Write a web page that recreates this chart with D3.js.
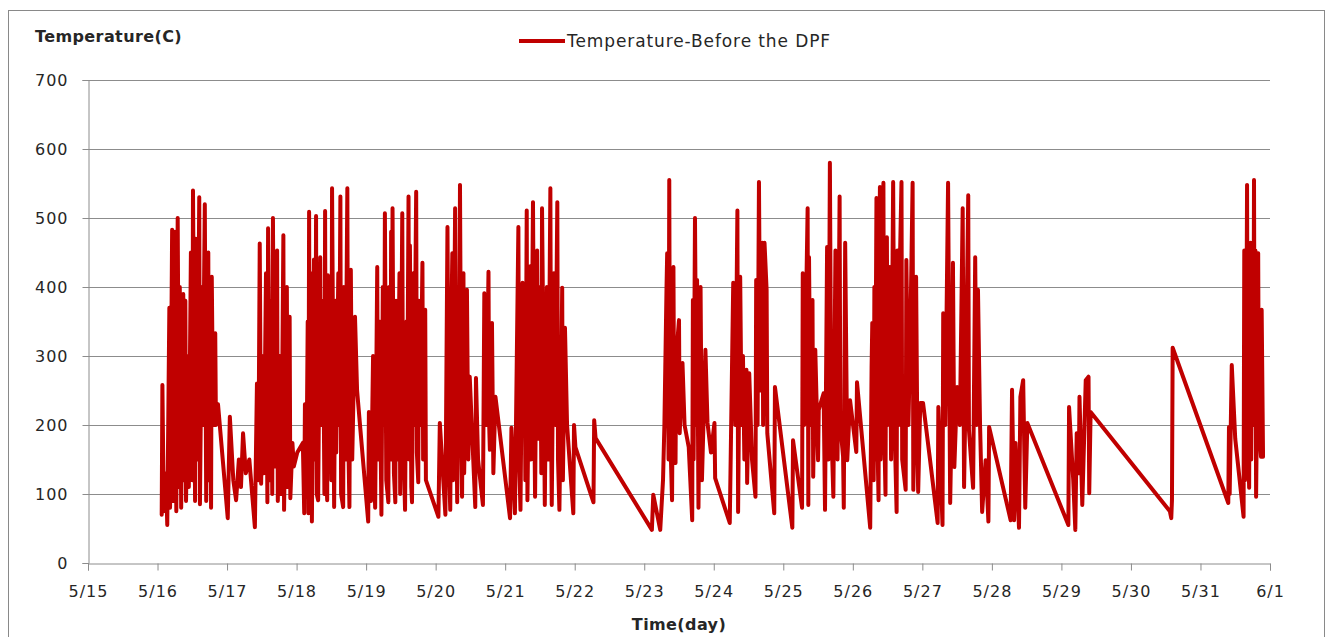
<!DOCTYPE html>
<html>
<head>
<meta charset="utf-8">
<script src="https://cdn.jsdelivr.net/npm/d3@7"></script>
<style>
  body { margin: 0; background: #fff; }
  text { font-family: "DejaVu Sans", Verdana, sans-serif; fill: #262626; }
</style>
</head>
<body>
<div class="chart"></div>
<script>
// readings: [day of May (fraction = time of day), temperature in C]
const readings = [
  [16.06,70],[16.07,258],[16.09,75],[16.12,130],[16.14,55],[16.17,370],[16.18,80],[16.21,483],[16.22,90],[16.25,480],
  [16.27,75],[16.29,500],[16.31,110],[16.32,400],[16.34,80],[16.37,390],[16.38,120],[16.40,380],[16.41,90],[16.44,300],
  [16.45,110],[16.48,450],[16.50,120],[16.51,540],[16.54,90],[16.55,470],[16.57,150],[16.60,530],[16.61,85],[16.64,400],
  [16.65,200],[16.68,520],[16.70,90],[16.73,450],[16.74,120],[16.76,400],[16.77,80],[16.78,415],[16.80,200],[16.83,333],
  [16.84,200],[16.87,230],[17.01,65],[17.04,212],[17.09,120],[17.13,91],[17.17,150],[17.20,110],[17.23,188],[17.27,130],
  [17.32,150],[17.40,52],
  [17.43,260],[17.45,120],[17.47,463],[17.49,115],[17.52,300],[17.53,130],[17.56,420],[17.58,88],[17.59,485],[17.62,120],
  [17.63,380],[17.65,100],[17.66,500],[17.68,140],[17.71,420],[17.72,453],[17.73,90],[17.76,300],[17.78,100],[17.81,475],
  [17.82,77],[17.86,400],[17.87,110],[17.90,357],[17.91,94],[17.94,174],[17.96,140],[18.01,160],[18.09,174],
  [18.11,72],[18.12,230],[18.14,100],[18.16,350],[18.17,72],[18.18,509],[18.19,130],[18.21,420],[18.22,60],[18.25,440],
  [18.27,150],[18.28,503],[18.29,100],[18.31,91],[18.34,443],[18.35,200],[18.38,380],[18.40,100],[18.41,510],[18.42,150],
  [18.44,91],[18.45,417],[18.47,220],[18.48,300],[18.50,120],[18.51,543],[18.54,81],[18.56,380],[18.57,160],[18.60,420],
  [18.61,200],[18.63,531],[18.64,100],[18.67,81],[18.68,400],[18.70,150],[18.73,543],[18.74,200],[18.76,81],[18.77,300],
  [18.78,425],[18.80,150],[18.81,200],[18.84,357],[18.87,250],[19.03,60],
  [19.04,219],[19.07,90],[19.10,300],[19.12,120],[19.13,80],[19.16,429],[19.17,150],[19.19,350],[19.22,70],[19.24,400],
  [19.26,200],[19.27,507],[19.29,120],[19.32,88],[19.33,400],[19.35,150],[19.36,480],[19.37,200],[19.38,514],[19.40,130],
  [19.42,88],[19.43,380],[19.45,150],[19.48,420],[19.49,100],[19.52,507],[19.53,200],[19.56,77],[19.58,350],[19.59,180],
  [19.61,531],[19.62,150],[19.63,460],[19.65,110],[19.66,88],[19.68,420],[19.69,200],[19.72,538],[19.73,160],[19.75,117],
  [19.76,380],[19.78,200],[19.81,435],[19.82,150],[19.85,367],[19.86,120],[20.04,67],[20.06,203],[20.14,70],
  [20.17,487],[20.19,150],[20.21,77],[20.23,380],[20.24,449],[20.25,120],[20.28,514],[20.30,200],[20.31,88],[20.32,400],
  [20.34,250],[20.35,548],[20.37,150],[20.38,96],[20.40,420],[20.41,130],[20.44,300],[20.45,396],[20.47,150],[20.49,270],
  [20.57,81],[20.58,268],[20.61,150],[20.68,84],[20.70,391],[20.73,200],[20.76,422],[20.77,200],[20.78,164],[20.81,348],
  [20.83,130],[20.86,241],[21.07,65],[21.09,196],[21.14,72],
  [21.19,487],[21.20,150],[21.22,77],[21.25,406],[21.26,200],[21.28,350],[21.29,120],[21.31,511],[21.32,91],[21.35,350],
  [21.36,430],[21.37,150],[21.40,523],[21.42,200],[21.43,96],[21.46,453],[21.47,180],[21.50,400],[21.52,130],[21.53,514],
  [21.56,200],[21.57,84],[21.60,400],[21.62,150],[21.65,543],[21.66,200],[21.67,84],[21.70,420],[21.72,200],[21.75,523],
  [21.76,150],[21.78,77],[21.81,300],[21.82,399],[21.83,120],[21.86,341],[21.89,200],[21.98,72],[21.99,200],[22.01,168],
  [22.27,88],[22.28,207],[22.30,181],[23.11,48],[23.13,99],[23.23,48],
  [23.27,120],[23.29,200],[23.32,396],[23.33,449],[23.35,150],[23.36,555],[23.37,200],[23.40,91],[23.42,429],[23.43,200],
  [23.45,145],[23.46,300],[23.50,352],[23.51,188],[23.55,290],[23.58,200],[23.64,168],[23.69,62],[23.70,381],[23.71,150],
  [23.73,500],[23.75,200],[23.76,410],[23.78,80],[23.81,400],[23.83,120],[23.88,309],[23.91,203],[23.96,160],[24.01,203],
  [24.02,123],[24.23,58],
  [24.28,406],[24.31,200],[24.34,511],[24.35,74],[24.38,415],[24.40,200],[24.42,300],[24.44,150],[24.47,280],[24.48,116],
  [24.51,275],[24.55,150],[24.60,96],[24.61,410],[24.63,200],[24.65,552],[24.67,250],[24.70,464],[24.71,200],[24.73,464],
  [24.76,396],[24.77,188],[24.87,72],[24.88,255],[25.13,51],[25.14,178],[25.27,80],[25.28,420],
  [25.30,200],[25.35,514],[25.36,84],[25.37,443],[25.39,200],[25.42,381],[25.43,125],[25.46,309],[25.50,149],[25.51,222],
  [25.58,246],[25.60,77],[25.63,458],[25.65,150],[25.67,580],[25.69,200],[25.72,96],[25.75,453],[25.78,150],[25.81,531],
  [25.82,200],[25.86,154],[25.87,80],[25.89,464],[25.92,149],[25.96,236],[26.05,161],[26.06,262],[26.25,51],
  [26.27,284],[26.28,348],[26.30,120],[26.31,400],[26.32,150],[26.34,529],[26.35,200],[26.37,91],[26.38,450],[26.39,545],
  [26.40,150],[26.44,551],[26.45,200],[26.47,99],[26.48,400],[26.49,472],[26.50,200],[26.53,429],[26.55,150],[26.58,552],
  [26.60,200],[26.63,74],[26.64,453],[26.66,200],[26.67,400],[26.70,552],[26.71,150],[26.76,106],[26.77,439],[26.80,200],
  [26.83,350],[26.86,551],[26.87,106],[26.89,300],[26.91,415],[26.93,150],[26.94,103],[26.97,232],[27.01,232],[27.11,150],
  [27.22,58],[27.23,226],[27.29,55],
  [27.30,362],[27.33,200],[27.37,551],[27.40,87],[27.42,200],[27.44,435],[27.46,139],[27.50,255],[27.54,200],[27.58,514],
  [27.60,110],[27.63,300],[27.66,533],[27.67,193],[27.70,150],[27.73,109],[27.76,443],[27.78,200],[27.80,396],[27.83,200],
  [27.86,74],[27.91,149],[27.95,60],[27.96,197],[28.27,62],[28.29,251],[28.32,62],[28.34,174],[28.39,51],[28.41,241],
  [28.45,265],[28.48,80],[28.51,203],[29.10,55],[29.11,226],[29.17,120],[29.20,48],[29.22,188],[29.25,130],[29.26,241],
  [29.30,84],[29.35,265],[29.39,270],[29.40,101],[29.42,219],[30.56,75],[30.58,65],[30.59,91],[30.60,312],[31.40,87],
  [31.41,197],[31.42,100],[31.45,287],[31.50,180],[31.62,67],
  [31.63,453],[31.64,120],[31.66,300],[31.67,548],[31.68,200],[31.70,109],[31.71,400],[31.72,464],[31.73,150],[31.74,400],
  [31.76,200],[31.77,555],[31.78,200],[31.79,453],[31.80,96],[31.82,300],[31.83,449],[31.84,200],[31.87,154],[31.88,367],
  [31.90,154]
];

const dayTicks = [15,16,17,18,19,20,21,22,23,24,25,26,27,28,29,30,31,32];
const dayLabels = ['5/15','5/16','5/17','5/18','5/19','5/20','5/21','5/22','5/23','5/24','5/25','5/26','5/27','5/28','5/29','5/30','5/31','6/1'];
const tempTicks = [0,100,200,300,400,500,600,700];
const seriesName = 'Temperature-Before the DPF';

const width = 1330;
const height = 637;
const margin = {left: 88, right: 60, top: 80, bottom: 74};

const svg = d3.select('.chart').append('svg')
    .attr('width', width)
    .attr('height', height)

// outer chart border
svg.append('rect')
    .attr('x', 8.5).attr('y', 10.5)
    .attr('width', 1316).attr('height', 640)
    .attr('fill', 'none')
    .attr('stroke', '#898989')

const x = d3.scaleLinear().domain([15, 32]).range([margin.left, width - margin.right]);
const y = d3.scaleLinear().domain([0, 700]).range([height - margin.bottom, margin.top]);

// gridlines
svg.selectAll('.grid')
    .data(tempTicks.slice(1))
    .enter()
    .append('line')
    .attr('x1', margin.left).attr('x2', width - margin.right)
    .attr('y1', d => Math.round(y(d)) + 0.5).attr('y2', d => Math.round(y(d)) + 0.5)
    .attr('stroke', '#8c8c8c')

// y axis
const yAxis = svg.append('g')
    .attr('transform', `translate(${margin.left + 0.5},0)`)
    .call(d3.axisLeft(y).tickValues(tempTicks).tickSize(6).tickPadding(14).tickFormat(d3.format('d')));
yAxis.select('.domain').attr('stroke', '#8c8c8c');
yAxis.selectAll('.tick line').attr('stroke', '#8c8c8c');
yAxis.selectAll('.tick text').attr('font-size', 16).attr('letter-spacing', 1).attr('fill', '#262626')
    .attr('font-family', '"DejaVu Sans", Verdana, sans-serif');

// x axis
const xAxis = svg.append('g')
    .attr('transform', `translate(0,${Math.round(y(0)) + 0.5})`)
    .call(d3.axisBottom(x).tickValues(dayTicks).tickSize(7).tickPadding(15)
        .tickFormat((d, i) => dayLabels[i]));
xAxis.select('.domain').attr('stroke', '#8c8c8c');
xAxis.selectAll('.tick line').attr('stroke', '#8c8c8c');
xAxis.selectAll('.tick text').attr('font-size', 16).attr('letter-spacing', 1).attr('fill', '#262626')
    .attr('font-family', '"DejaVu Sans", Verdana, sans-serif');

// the series
const line = d3.line()
    .x(d => x(d[0]))
    .y(d => y(d[1]));

svg.append('path')
    .datum(readings)
    .attr('d', line)
    .attr('fill', 'none')
    .attr('stroke', '#c00000')
    .attr('stroke-width', 4)
    .attr('stroke-linejoin', 'round')
    .attr('stroke-linecap', 'round')

// titles
svg.append('text')
    .attr('x', 35).attr('y', 42)
    .attr('font-size', 16).attr('font-weight', 'bold').attr('letter-spacing', 0.4)
    .text('Temperature(C)')

svg.append('text')
    .attr('x', 679).attr('y', 630)
    .attr('text-anchor', 'middle')
    .attr('font-size', 16).attr('font-weight', 'bold').attr('letter-spacing', 0.4)
    .text('Time(day)')

// legend
svg.append('line')
    .attr('x1', 519).attr('x2', 565)
    .attr('y1', 41).attr('y2', 41)
    .attr('stroke', '#c00000')
    .attr('stroke-width', 4)

svg.append('text')
    .attr('x', 567).attr('y', 47)
    .attr('font-size', 17).attr('letter-spacing', 0.9)
    .text(seriesName)
</script>
</body>
</html>
